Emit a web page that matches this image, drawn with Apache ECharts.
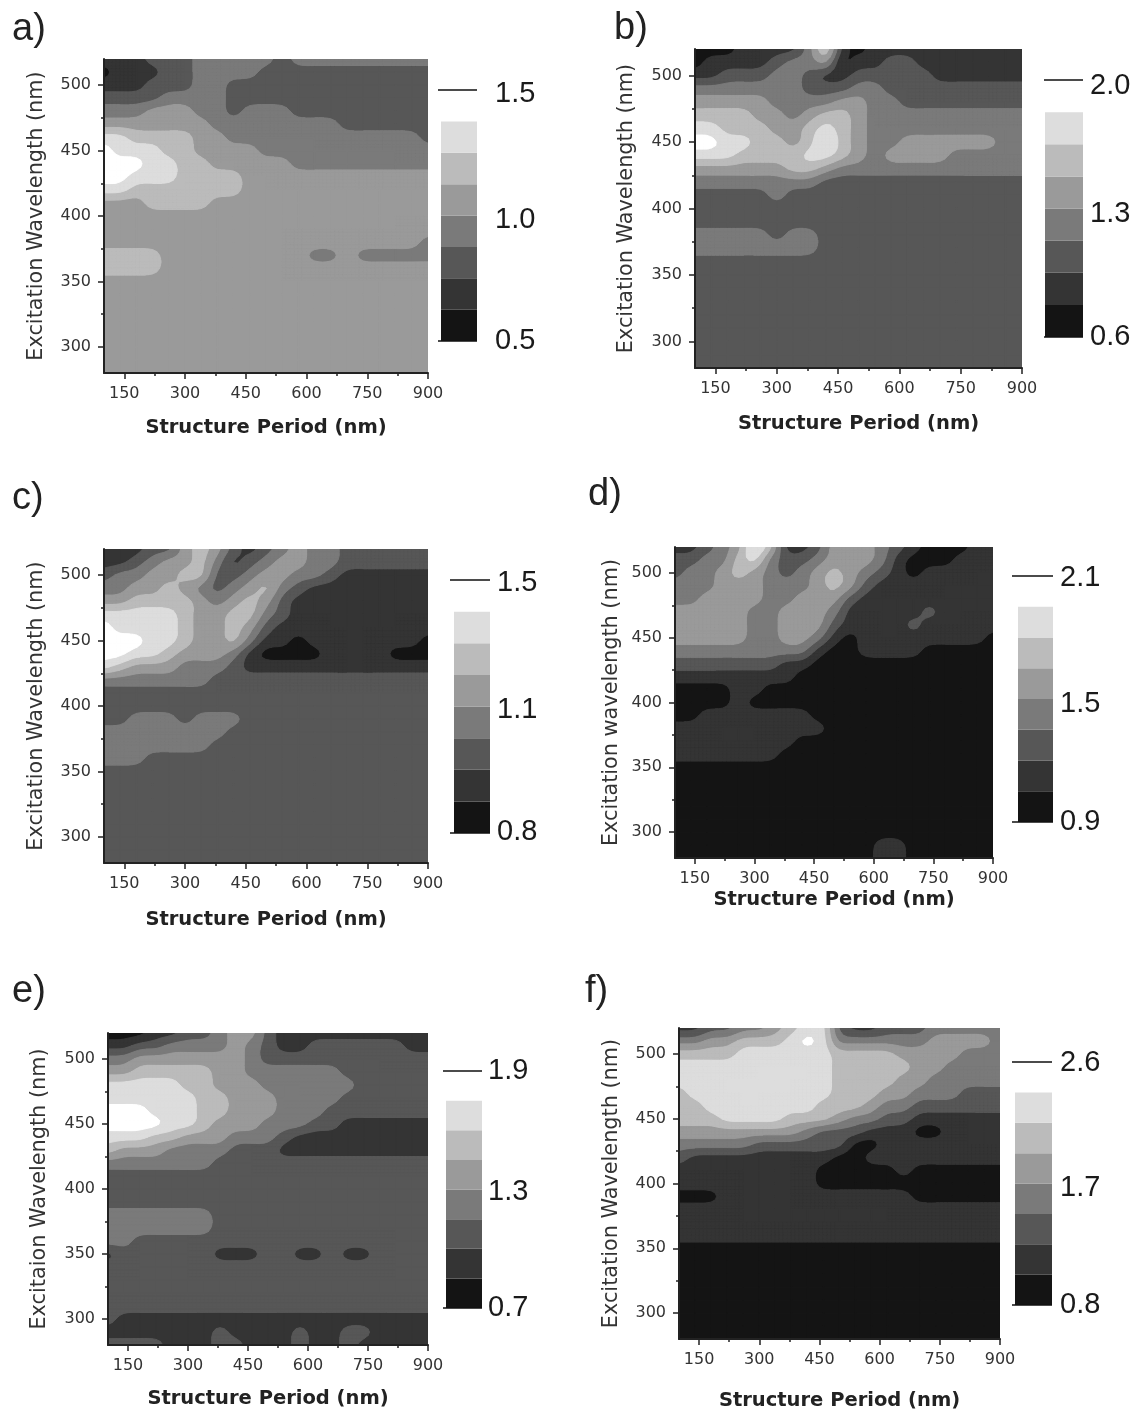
<!DOCTYPE html>
<html><head><meta charset="utf-8">
<style>html,body{margin:0;padding:0;background:#fff}#c{width:1137px;height:1412px}</style>
<script src="https://cdn.jsdelivr.net/npm/echarts@6/dist/echarts.min.js"></script>
</head><body><div id="c"></div>
<script>
// Contour band index (0 darkest .. 7 white) at each node; rows run 520 nm -> 280 nm in 10 nm steps,
// columns 100 nm -> 900 nm in 40 nm steps.
const periods = Array.from({length:21},(_, i)=>100+40*i);
const wavelengths = Array.from({length:25},(_, i)=>520-10*i);
const majorX = [150,300,450,600,750,900], minorX = [225,375,525,675,825];
const majorY = [300,350,400,450,500], minorY = [325,375,425,475];
const bandColors = ['#141414','#343434','#575757','#7a7a7a','#9a9a9a','#bbbbbb','#dddddd','#ffffff'];

const panelA = [
"111222333332333333333","011122333322222222222","111222332222222222222","222233332222222222222",
"333444332333222222222","444444433333333222222","665555443333333333332","766655444433333333333",
"777665544444333333333","776665555444444444444","665555555444444444444","444555544444444444444",
"444444444444444444444","444444444444444444444","444444444444444444443","555544444444433433333",
"555544444444444444444","444444444444444444444","444444444444444444444","444444444444444444444",
"444444444444444444444","444444444444444444444","444444444444444444444","444444444444444444444",
"444444444444444444444"];
const panelB = [
"000111136101111111111","011112334011221111111","112223321122222111111","333333322233222222222",
"444443333443322222222","555544345543333333333","665554456543333333333","776655457543344444433",
"666555566543444433333","444444554333333333333","333333332222222222222","222223222222222222222",
"222222222222222222222","222222222222222222222","333332332222222222222","333333332222222222222",
"222222222222222222222","222222222222222222222","222222222222222222222","222222222222222222222",
"222222222222222222222","222222222222222222222","222222222222222222222","222222222222222222222",
"222222222222222222222"];
const panelC = [
"111224542123433222222","112344531234433222222","233445522344332111111","334454323453211111111",
"445555434542111111111","666665445532111111111","766665445421111111111","777665445311011111110",
"776654443100001111000","654443332111111111111","333333322222222222222","222222222222222222222",
"222222222222222222222","223332333222222222222","333333332222222222222","333333322222222222222",
"333222222222222222222","222222222222222222222","222222222222222222222","222222222222222222222",
"222222222222222222222","222222222222222222222","222222222222222222222","222222222222222222222",
"222222222222222222222"];
const panelD = [
"112347511244432100011","223356322344431000111","233454323454321011111","333444333454211111111",
"334444334442111111111","444443344431111121111","444443344421111211111","444443344310111111110",
"333333333100111100000","222222211000000000000","111111110000000000000","000011000000000000000",
"000010000000000000000","001111111000000000000","111111111100000000000","111111110000000000000",
"111111100000000000000","000000000000000000000","000000000000000000000","000000000000000000000",
"000000000000000000000","000000000000000000000","000000000000000000000","000000000000011000000",
"000000000000011000000"];
const panelE = [
"000112234421111111111","112233334321122222211","334444444322222222222","445555544333333222222",
"666665544433333322222","666666554443333222222","777666554443332222222","777766544433322111111",
"666554443332111111111","544433332221111111111","333333322222222222222","222222222222222222222",
"222222222222222222222","222222222222222222222","333333322222222222222","333333322222222222222",
"332222222222222222222","122222211122112112222","222222222222222222222","222222222222222222222",
"222222222222222222222","222222222222222222222","211111111111111111111","111111121111211221111",
"222211122111211211111"];
const panelF = [
"112233456621122233333","334455567633333344443","555566666655554444333","666666666655555443333",
"666666666655554433333","566666666655544333222","556666666555433222222","555666655543322111111",
"444444443222111001111","333332222220011111111","211111111100111111111","111111111000001000000",
"111111111000000000000","000111111111111000000","111111111111111111111","111111111111111111111",
"111111111111111111111","000000000000000000000","000000000000000000000","000000000000000000000",
"000000000000000000000","000000000000000000000","000000000000000000000","000000000000000000000",
"000000000000000000000"];

const scaleA = ['0.5','1.0','1.5'], scaleB = ['0.6','1.3','2.0'], scaleC = ['0.8','1.1','1.5'],
      scaleD = ['0.9','1.5','2.1'], scaleE = ['0.7','1.3','1.9'], scaleF = ['0.8','1.7','2.6'];

const sans = 'Liberation Sans', wide = 'DejaVu Sans';
const panels = [
 {tag:'a)',rows:panelA,scale:scaleA,yName:'Excitation Wavelength (nm)',box:[104,59,428,373],xGap:55,yGap:67,bar:[441,90,477,341],line:39,lab:18,labY:[341,220,94],tx:7,ty:6},
 {tag:'b)',rows:panelB,scale:scaleB,yName:'Excitation Wavelength (nm)',box:[695,49,1022,368],xGap:56,yGap:68,bar:[1045,80,1083,337],line:39,lab:7,labY:[337,214,86],tx:609,ty:5},
 {tag:'c)',rows:panelC,scale:scaleC,yName:'Excitation Wavelength (nm)',box:[104,549,428,863],xGap:57,yGap:67,bar:[454,580,490,833],line:40,lab:7,labY:[832,710,583],tx:7,ty:475},
 {tag:'d)',rows:panelD,scale:scaleD,yName:'Excitation wavelength (nm)',box:[675,547,993,858],xGap:42,yGap:63,bar:[1018,576,1053,822],line:41,lab:7,labY:[822,704,578],tx:583,ty:471},
 {tag:'e)',rows:panelE,scale:scaleE,yName:'Excitaion Wavelength (nm)',box:[108,1033,428,1345],xGap:54,yGap:68,bar:[446,1071,482,1308],line:39,lab:6,labY:[1308,1192,1071],tx:7,ty:968},
 {tag:'f)',rows:panelF,scale:scaleF,yName:'Excitation Wavelength (nm)',box:[679,1028,1000,1339],xGap:62,yGap:67,bar:[1015,1062,1052,1305],line:40,lab:8,labY:[1305,1188,1063],tx:580,ty:968}
];

const SUB = 4, TENSION = 0.35;
function node(rows,i,j){
  const jj=Math.max(0,Math.min(rows.length-1,j)), ii=Math.max(0,Math.min(rows[0].length-1,i));
  return +rows[jj][ii];
}
// Spline through the typed nodes, used only to round the drawn contour lines.
function spline(a,b,c,d,t){
  const t2=t*t,t3=t2*t;
  const cr=0.5*((2*b)+(-a+c)*t+(2*a-5*b+4*c-d)*t2+(-a+3*b-3*c+d)*t3);
  const bs=((1-t)*(1-t)*(1-t)*a+(3*t3-6*t2+4)*b+(-3*t3+3*t2+3*t+1)*c+t3*d)/6;
  return TENSION*cr+(1-TENSION)*bs;
}
function field(rows,i,j,u,v){
  const r=[];
  for(let m=-1;m<=2;m++) r.push(spline(node(rows,i-1,j+m),node(rows,i,j+m),node(rows,i+1,j+m),node(rows,i+2,j+m),u));
  return spline(r[0],r[1],r[2],r[3],v);
}
function hood(rows,i,j){
  let lo=9,hi=-9;
  for(let n=-1;n<=2;n++) for(let m=-1;m<=2;m++){const q=node(rows,i+m,j+n); if(q<lo)lo=q; if(q>hi)hi=q;}
  return [lo,hi];
}
function clipCell(pts, vals, t){
  const out=[];
  for(let i=0;i<4;i++){
    const j=(i+1)%4, a=vals[i], b=vals[j];
    if(a>=t) out.push(pts[i]);
    if((a>=t)!==(b>=t)){
      const f=(t-a)/(b-a);
      out.push([pts[i][0]+(pts[j][0]-pts[i][0])*f, pts[i][1]+(pts[j][1]-pts[i][1])*f]);
    }
  }
  return out;
}
function makeRenderer(rows,k){
  return function(params, api){
    const x0=api.value(0), y0=api.value(1), x1=api.value(2), y1=api.value(3), i=api.value(4), j=api.value(5);
    const color=bandColors[k];
    const a=api.coord([x0,y0]), b=api.coord([x1,y1]);
    const h4=hood(rows,i,j);
    if(k===0 || h4[0]>=k-0.5){
      return {type:'rect',shape:{x:a[0],y:a[1],width:b[0]-a[0],height:b[1]-a[1]},style:{fill:color,stroke:color,lineWidth:1.4}};
    }
    const style={fill:color,stroke:color,lineWidth:0.9};
    const children=[], t=k-0.5, w=(b[0]-a[0])/SUB, h=(b[1]-a[1])/SUB;
    for(let n=0;n<SUB;n++) for(let m=0;m<SUB;m++){
      const px=[[a[0]+m*w,a[1]+n*h],[a[0]+(m+1)*w,a[1]+n*h],[a[0]+(m+1)*w,a[1]+(n+1)*h],[a[0]+m*w,a[1]+(n+1)*h]];
      const vs=[field(rows,i,j,m/SUB,n/SUB),field(rows,i,j,(m+1)/SUB,n/SUB),field(rows,i,j,(m+1)/SUB,(n+1)/SUB),field(rows,i,j,m/SUB,(n+1)/SUB)];
      const poly=clipCell(px,vs,t);
      if(poly.length>=3) children.push({type:'polygon',shape:{points:poly},style});
    }
    return {type:'group',children};
  };
}
function renderBand(params, api){
  const i=api.value(0);
  const a=api.coord([0,i]), b=api.coord([1,i+1]);
  return {type:'rect',shape:{x:a[0],y:b[1],width:b[0]-a[0],height:a[1]-b[1]},style:{fill:bandColors[i]}};
}

const grid=[],xAxis=[],yAxis=[],series=[],title=[];
const axisCol='#222', txtCol='#333';
panels.forEach(p=>{
  const g=grid.length;
  const [l,t,r,b]=p.box;
  grid.push({left:l,top:t,width:r-l,height:b-t});
  title.push({text:p.tag,left:p.tx,top:p.ty,textStyle:{fontFamily:sans,fontSize:38,fontWeight:'normal',color:'#222'}});
  xAxis.push({gridIndex:g,type:'value',position:'bottom',min:100,max:900,z:5,splitLine:{show:false},
    axisLine:{show:true,onZero:false,lineStyle:{color:axisCol,width:2}},
    axisTick:{show:true,length:6,customValues:majorX,lineStyle:{color:axisCol,width:1.5}},
    axisLabel:{show:true,customValues:majorX,margin:13,color:txtCol,fontFamily:wide,fontSize:16,hideOverlap:false},
    name:'Structure Period (nm)',nameLocation:'middle',nameGap:p.xGap,
    nameTextStyle:{fontFamily:wide,fontWeight:'bold',fontSize:19.5,color:'#222',verticalAlign:'middle'}});
  xAxis.push({gridIndex:g,type:'value',position:'bottom',min:100,max:900,z:5,splitLine:{show:false},axisLine:{show:false,onZero:false},axisLabel:{show:false},
    axisTick:{show:true,length:3,customValues:minorX,lineStyle:{color:axisCol,width:1.5}}});
  yAxis.push({gridIndex:g,type:'value',position:'left',min:280,max:520,z:5,splitLine:{show:false},
    axisLine:{show:true,onZero:false,lineStyle:{color:axisCol,width:2}},
    axisTick:{show:true,length:6,customValues:majorY,lineStyle:{color:axisCol,width:1.5}},
    axisLabel:{show:true,customValues:majorY,margin:13,color:txtCol,fontFamily:wide,fontSize:16},
    name:p.yName,nameLocation:'middle',nameGap:p.yGap,
    nameTextStyle:{fontFamily:wide,fontSize:20.8,color:'#333',verticalAlign:'middle'}});
  yAxis.push({gridIndex:g,type:'value',position:'left',min:280,max:520,z:5,splitLine:{show:false},axisLine:{show:false,onZero:false},axisLabel:{show:false},
    axisTick:{show:true,length:3,customValues:minorY,lineStyle:{color:axisCol,width:1.5}}});
  const xi=xAxis.length-2, yi=yAxis.length-2;
  for(let k=0;k<bandColors.length;k++){
    const cells=[];
    for(let j=0;j<wavelengths.length-1;j++) for(let i=0;i<periods.length-1;i++){
      if(k===0 || hood(p.rows,i,j)[1]>=k-0.5) cells.push([periods[i],wavelengths[j],periods[i+1],wavelengths[j+1],i,j]);
    }
    if(!cells.length) continue;
    series.push({type:'custom',xAxisIndex:xi,yAxisIndex:yi,coordinateSystem:'cartesian2d',clip:true,silent:true,z:2,
      progressive:0,animation:false,data:cells,encode:{x:[0,2],y:[1,3]},renderItem:makeRenderer(p.rows,k)});
  }

  // Colour scale: eight equal bands; the white top band merges with the page.
  const cg=grid.length;
  const [bl,bt,br,bb]=p.bar;
  const labelAt=p.labY.map(y=>(bb-y)/(bb-bt)*8);
  grid.push({left:bl,top:bt,width:br-bl,height:bb-bt});
  xAxis.push({gridIndex:cg,type:'value',min:0,max:1,show:false});
  yAxis.push({gridIndex:cg,type:'value',position:'right',min:0,max:8,z:5,splitLine:{show:false},
    axisLine:{show:false,onZero:false},
    axisTick:{show:true,inside:true,length:p.line,customValues:[0,8],lineStyle:{color:'#111',width:1.5}},
    axisLabel:{show:true,customValues:labelAt,margin:p.lab,color:'#1a1a1a',fontFamily:sans,fontSize:29,
      formatter:(v)=>p.scale[labelAt.findIndex(q=>Math.abs(q-v)<1e-6)]}});
  series.push({type:'custom',xAxisIndex:xAxis.length-1,yAxisIndex:yAxis.length-1,coordinateSystem:'cartesian2d',silent:true,z:1,
    animation:false,data:[0,1,2,3,4,5,6].map(v=>[v]),encode:{y:0},renderItem:renderBand});
});

const chart=echarts.init(document.getElementById('c'),null,{renderer:'canvas',width:1137,height:1412});
chart.setOption({backgroundColor:'#fff',animation:false,title,grid,xAxis,yAxis,series,tooltip:{show:false}});
</script></body></html>
